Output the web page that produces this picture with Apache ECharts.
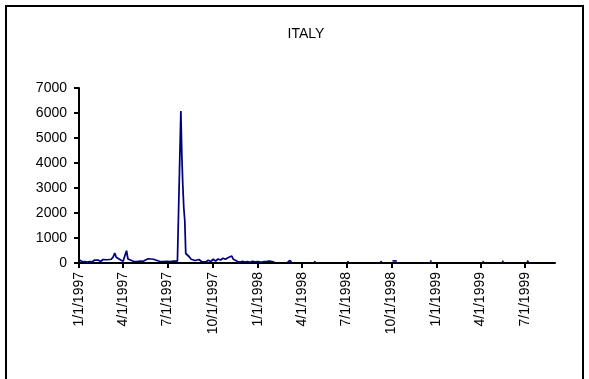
<!DOCTYPE html>
<html><head><meta charset="utf-8">
<script src="https://cdn.jsdelivr.net/npm/echarts@6/dist/echarts.min.js"></script>
<style>html,body{margin:0;padding:0;background:#fff}#c{width:589px;height:379px}</style>
</head><body><div id="c"></div>
<script>
const chartTitle = 'ITALY';
const axisStart = '1/1/1997';
const axisEnd = '8/31/1999';
const yTicks = [0, 1000, 2000, 3000, 4000, 5000, 6000, 7000];
const tickMonths = [1, 4, 7, 10];

// Continuous stretch (1997 - early 1998)
const contDates = ['1/1/1997','1/3/1997','1/8/1997','1/13/1997','1/18/1997','1/23/1997','1/28/1997','2/2/1997','2/5/1997','2/9/1997','2/14/1997','2/19/1997','2/23/1997','2/28/1997','3/4/1997','3/8/1997','3/12/1997','3/15/1997','3/18/1997','3/22/1997','3/27/1997','4/1/1997','4/5/1997','4/8/1997','4/11/1997','4/15/1997','4/22/1997','4/29/1997','5/6/1997','5/12/1997','5/16/1997','5/22/1997','5/28/1997','6/2/1997','6/6/1997','6/14/1997','6/22/1997','6/30/1997','7/7/1997','7/13/1997','7/17/1997','7/21/1997','7/25/1997','7/28/1997','7/30/1997','8/1/1997','8/3/1997','8/5/1997','8/7/1997','8/10/1997','8/14/1997','8/18/1997','8/22/1997','8/26/1997','8/30/1997','9/3/1997','9/8/1997','9/12/1997','9/17/1997','9/22/1997','9/27/1997','10/2/1997','10/7/1997','10/12/1997','10/17/1997','10/22/1997','10/27/1997','11/1/1997','11/5/1997','11/9/1997','11/12/1997','11/16/1997','11/21/1997','11/26/1997','12/1/1997','12/6/1997','12/11/1997','12/16/1997','12/21/1997','12/27/1997','1/2/1998','1/8/1998','1/14/1998','1/20/1998','1/25/1998','1/30/1998','2/4/1998'];
const contValues = [130,70,50,60,40,60,50,120,160,120,60,140,70,130,110,150,250,400,230,180,120,70,150,490,160,80,70,60,80,70,150,170,160,150,80,70,60,70,60,80,30,80,60,6080,4300,3100,2200,1700,380,320,250,150,220,100,80,140,60,130,50,110,60,150,80,160,120,190,150,210,160,280,150,90,60,40,70,40,60,30,70,50,60,30,60,70,80,60,40];

// Short isolated fragments (consecutive daily values from a start date)
const fragStarts = ['3/3/1998','4/27/1998','7/4/1998','9/9/1998','10/3/1998','12/19/1998','4/6/1999','5/15/1999','7/5/1999','8/2/1999'];
const fragValues = [
  [40,70,90,100,100,100,90,70,40],
  [30,80,30],
  [30,80,30],
  [20,50,80,60],
  [80,90,90,60,80,90,90,90,90,70,60],
  [90,90,90,60],
  [40,80,40],
  [80,80,80,50],
  [90,90,90,40],
  [60,60]
];

function parseD(s){const p=s.split('/').map(Number);return Date.UTC(p[2],p[0]-1,p[1]);}
function fmt(t){const d=new Date(t);return (d.getUTCMonth()+1)+'/'+d.getUTCDate()+'/'+d.getUTCFullYear();}
const DAY = 86400000;
const t0 = parseD(axisStart), t1 = parseD(axisEnd);
const categories = [];
for (let t = t0; t <= t1; t += DAY) categories.push(fmt(t));
const idx = s => Math.round((parseD(s) - t0) / DAY);

const contData = categories.map(() => null);
contDates.forEach((d, i) => { contData[idx(d)] = contValues[i]; });
const fragData = categories.map(() => null);
fragStarts.forEach((d, i) => { const k = idx(d); fragValues[i].forEach((v, j) => { fragData[k + j] = v; }); });

function isTick(i, val){ const p = val.split('/').map(Number); return p[1] === 1 && tickMonths.indexOf(p[0]) >= 0; }

const font = 'Liberation Sans, Arial, sans-serif';
const chart = echarts.init(document.getElementById('c'), null, {renderer: 'canvas'});
chart.setOption({
  animation: false,
  backgroundColor: '#fff',
  title: {text: chartTitle, left: 301, top: 22, textAlign: 'center',
    textStyle: {fontFamily: font, fontSize: 14, fontWeight: 'normal', color: '#000'}},
  graphic: [{type: 'rect', shape: {x: 6, y: 6, width: 577, height: 380},
    style: {fill: 'none', stroke: '#000', lineWidth: 2}, silent: true}],
  grid: {left: 79, right: 34, top: 88, bottom: 116, containLabel: false},
  xAxis: {
    type: 'category', data: categories, boundaryGap: false,
    axisLine: {lineStyle: {color: '#000', width: 2}},
    axisTick: {show: true, inside: false, length: 5, interval: isTick, lineStyle: {color: '#000', width: 2}},
    axisLabel: {interval: isTick, rotate: 90, margin: 9, color: '#000', fontFamily: font, fontSize: 14},
    splitLine: {show: false}
  },
  yAxis: {
    type: 'value', min: 0, max: 7000, interval: 1000,
    axisLine: {show: true, lineStyle: {color: '#000', width: 2}},
    axisTick: {show: true, inside: false, length: 5, lineStyle: {color: '#000', width: 2}},
    axisLabel: {margin: 12, color: '#000', fontFamily: font, fontSize: 14,
      formatter: v => (yTicks.indexOf(v) >= 0 ? String(v) : '')},
    splitLine: {show: false}
  },
  series: [
    {type: 'line', data: contData, connectNulls: true, showSymbol: false, symbol: 'none',
      lineStyle: {color: '#000080', width: 1.75}, itemStyle: {color: '#000080'}},
    {type: 'line', data: fragData, connectNulls: false, showSymbol: false, symbol: 'none',
      lineStyle: {color: '#000080', width: 1.75}, itemStyle: {color: '#000080'}}
  ]
});
</script></body></html>
